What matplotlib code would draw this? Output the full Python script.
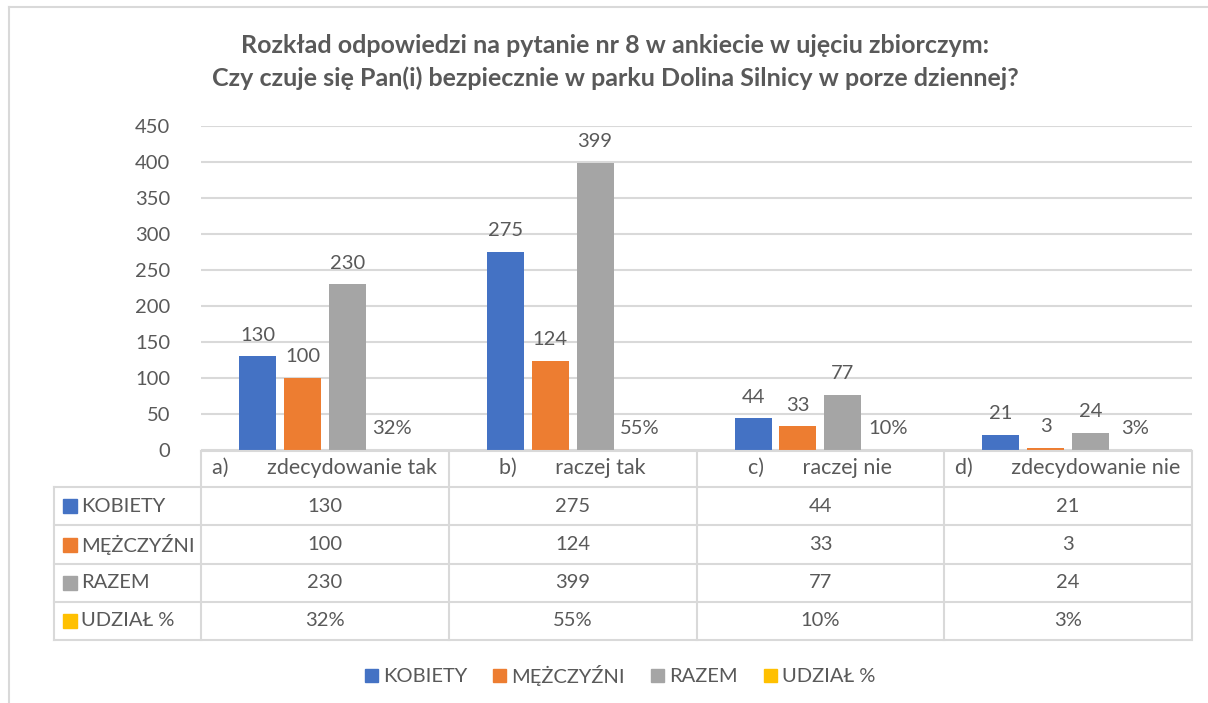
import matplotlib
matplotlib.use("Agg")
import matplotlib.pyplot as plt
from matplotlib.lines import Line2D
from matplotlib.patches import Patch, Rectangle
from matplotlib.transforms import blended_transform_factory

# ---------------------------------------------------------------------
# data
# ---------------------------------------------------------------------
letters = ["a)", "b)", "c)", "d)"]
answers = ["zdecydowanie tak", "raczej tak", "raczej nie", "zdecydowanie nie"]
series_names = ["KOBIETY", "MĘŻCZYŹNI", "RAZEM", "UDZIAŁ %"]
kobiety = [130, 275, 44, 21]
mezczyzni = [100, 124, 33, 3]
razem = [230, 399, 77, 24]
udzial = [0.32, 0.55, 0.10, 0.03]

title = ("Rozkład odpowiedzi na pytanie nr 8 w ankiecie w ujęciu zbiorczym:\n"
         "Czy czuje się Pan(i) bezpiecznie w parku Dolina Silnicy w porze dziennej?")

colors = ["#4472C4", "#ED7D31", "#A5A5A5", "#FFC000"]
TXT = "#595959"
GRID = "#D9D9D9"

plt.rcParams["font.family"] = ["Lato", "DejaVu Sans"]

W, H = 1208, 703
fig = plt.figure(figsize=(W / 100, H / 100), dpi=100)


def fx(px):
    return px / W


def fy(py):
    return 1 - py / H


# outer chart border (left + top visible)
fig.add_artist(Line2D([fx(9), fx(9)], [fy(7), 0], color=GRID, lw=1.5))
fig.add_artist(Line2D([fx(9), 1], [fy(7), fy(7)], color=GRID, lw=1.5))

ax = fig.add_axes([fx(201), fy(450), fx(1192) - fx(201), (450 - 126) / H])

fig.text(fx(615), fy(62), title, ha="center", va="center", fontsize=18,
         fontweight="bold", color=TXT, linespacing=1.45)

n = len(letters)
step = 0.181
width = 0.149
all_series = [kobiety, mezczyzni, razem, udzial]
for i, vals in enumerate(all_series):
    xs = [k + (i - 1.5) * step for k in range(n)]
    ax.bar(xs, vals, width=width, color=colors[i], zorder=3)
    for x, v in zip(xs, vals):
        label = f"{v:.0%}" if i == 3 else f"{v}"
        ax.annotate(label, (x, v), xytext=(0, 9), textcoords="offset points",
                    ha="center", va="bottom", fontsize=14.5, color=TXT)

ax.set_xlim(-0.5, n - 0.5)
ax.set_ylim(0, 450)
ax.set_yticks(range(0, 451, 50))
ax.yaxis.grid(True, color=GRID, lw=1.5, zorder=0)
ax.tick_params(axis="y", length=0, pad=22, labelsize=14.5, labelcolor=TXT)
ax.set_xticks([])
for s in ax.spines.values():
    s.set_visible(False)

# ---------------------------------------------------------------------
# data table under the axis
# ---------------------------------------------------------------------
tr = blended_transform_factory(ax.transData, fig.transFigure)
row_y = [451, 487, 525, 564, 602, 640]
col_x = [k - 0.5 for k in range(n + 1)]

fig.add_artist(Line2D([-0.5, n - 0.5], [fy(451), fy(451)], transform=tr,
                      color=GRID, lw=1.5))
for yy in row_y[1:]:
    fig.add_artist(Line2D([fx(54), 1.0], [fy(yy), fy(yy)], color=GRID, lw=1.5,
                          transform=fig.transFigure, clip_on=False))
# clamp right side of rows to table edge
fig.patches.append(Rectangle((fx(1193), 0), 1, fy(440), color="white",
                             transform=fig.transFigure, zorder=5))
fig.add_artist(Line2D([fx(54), fx(54)], [fy(487), fy(640)], color=GRID, lw=1.5))
for cx in col_x:
    fig.add_artist(Line2D([cx, cx], [fy(451), fy(640)], transform=tr,
                          color=GRID, lw=1.5, zorder=6))

# header row
for k in range(n):
    fig.text(k, fy(468), f"{letters[k]}       {answers[k]}", transform=tr,
             ha="center", va="center", fontsize=15.5, color=TXT)

# body rows
for r, (name, vals) in enumerate(zip(series_names, all_series)):
    yc = (row_y[r + 1] + row_y[r + 2]) / 2
    fig.patches.append(Rectangle((fx(63), fy(yc + 7)), 14 / W, 14 / H,
                                 color=colors[r], transform=fig.transFigure))
    fig.text(fx(81), fy(yc), name, ha="left", va="center", fontsize=14.5,
             color=TXT)
    for k, v in enumerate(vals):
        label = f"{v:.0%}" if r == 3 else f"{v}"
        fig.text(k, fy(yc), label, transform=tr, ha="center", va="center",
                 fontsize=14.5, color=TXT)

# legend
handles = [Patch(color=c) for c in colors]
fig.legend(handles, series_names, loc="center", bbox_to_anchor=(fx(620), fy(675)),
           ncol=4, frameon=False, fontsize=14.5, handlelength=0.65,
           handleheight=0.65, handletextpad=0.25, columnspacing=1.3,
           labelcolor=TXT)

fig.savefig("out.png", dpi=100)
